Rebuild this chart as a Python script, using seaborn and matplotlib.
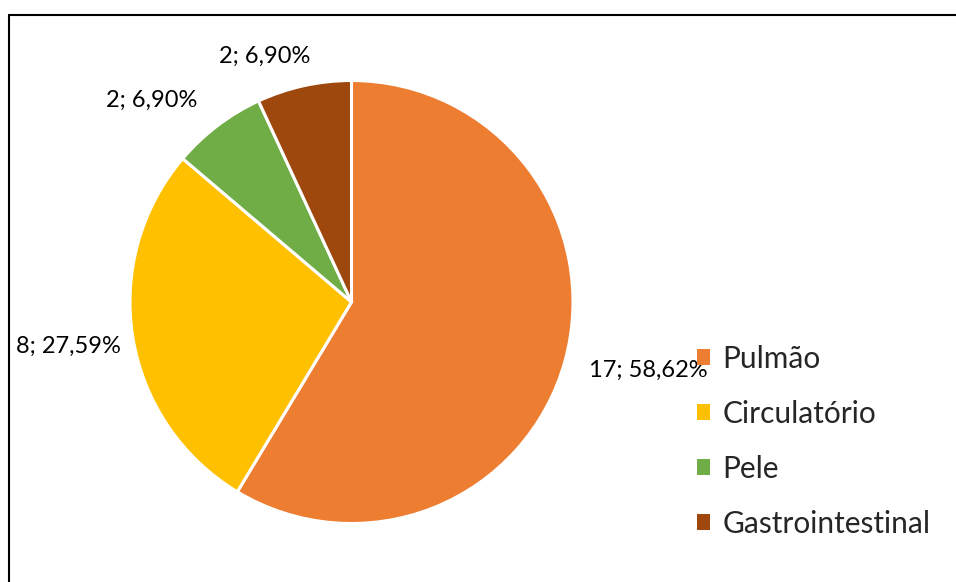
import matplotlib
matplotlib.use("Agg")
import matplotlib.pyplot as plt
from matplotlib.lines import Line2D
from matplotlib.patches import Patch
import seaborn as sns

# Data
categories = ["Pulmão", "Circulatório", "Pele", "Gastrointestinal"]
counts = [17, 8, 2, 2]
colors = ["#ED7D31", "#FFC000", "#70AD47", "#9E480E"]

# Label anchor positions, in units of the pie radius relative to the centre
label_pos = [(1.34, -0.31), (-1.28, -0.20), (-0.90, 0.91), (-0.39, 1.11)]

sns.set_theme(style="white")
plt.rcParams["font.family"] = ["Lato", "DejaVu Sans"]

W, H = 956, 582
fig = plt.figure(figsize=(W / 100, H / 100), dpi=100)
fig.patch.set_facecolor("white")
ax = fig.add_axes([0, 0, 1, 1])

cx, cy, r = 351.5, H - 302, 221.5
wedges, _ = ax.pie(
    counts,
    colors=sns.color_palette(colors),
    startangle=90,
    counterclock=False,
    center=(cx, cy),
    radius=r,
    wedgeprops=dict(edgecolor="white", linewidth=2.2),
    frame=True,
)
ax.set_xlim(0, W)
ax.set_ylim(0, H)
ax.set_aspect("equal")
ax.axis("off")

total = sum(counts)
for v, (lx, ly) in zip(counts, label_pos):
    pct = f"{v / total * 100:.2f}".replace(".", ",")
    ax.text(cx + lx * r, cy + ly * r, f"{v}; {pct}%", ha="center", va="center",
            fontsize=17, color="#000000")

handles = [Patch(facecolor=c, edgecolor="none") for c in colors]
leg = ax.legend(handles, categories, loc="upper left",
                bbox_to_anchor=(685 / W, 1 - 333 / H), frameon=False,
                fontsize=21.5, handlelength=0.45, handleheight=0.45,
                handletextpad=0.4, labelspacing=0.9, borderaxespad=0)

# Outer frame (top and left edges)
lw = 1.5
fig.add_artist(Line2D([8.5 / W, 1.0], [1 - 14.5 / H, 1 - 14.5 / H],
                      color="#000000", linewidth=lw, transform=fig.transFigure))
fig.add_artist(Line2D([8.5 / W, 8.5 / W], [0.0, 1 - 14.5 / H],
                      color="#000000", linewidth=lw, transform=fig.transFigure))

fig.savefig("out.png", dpi=100)
